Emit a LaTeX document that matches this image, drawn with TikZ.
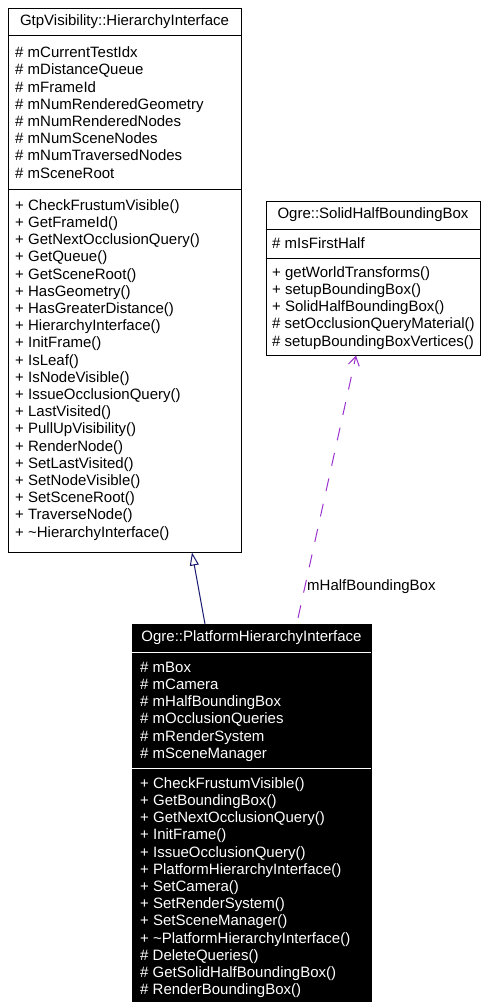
\documentclass[tikz,border=0pt]{standalone}
\usepackage{fontspec}
\setmainfont{Liberation Sans}
\usetikzlibrary{arrows.meta}
\definecolor{inhcol}{HTML}{191970}
\definecolor{usecol}{HTML}{9A32CD}
\tikzset{
  umlbox/.style={draw=black, line width=1pt, fill=white, anchor=north west, inner sep=0pt},
  darkbox/.style={draw=black, line width=1pt, fill=black, anchor=north west, inner sep=0pt},
  titletxt/.style={inner sep=0pt, font=\fontsize{15}{17.2}\selectfont},
  sectxt/.style={inner sep=0pt, anchor=north west, align=left, font=\fontsize{15}{17.2}\selectfont},
  sepline/.style={line width=1pt},
  inherit/.style={draw=inhcol, line width=1pt, -{Triangle[open, length=13pt, width=9pt]}},
  uses/.style={draw=usecol, line width=1pt, dash pattern=on 13pt off 13pt, -{Straight Barb[length=9pt, width=11pt]}},
}
\begin{document}
\begin{tikzpicture}[x=1pt,y=-1pt]
\useasboundingbox[fill=white] (0,0) rectangle (483,1006);

% GtpVisibility::HierarchyInterface
\node[umlbox, minimum width=233pt, minimum height=544pt] (gtp) at (8,8) {};
\draw[sepline] (8,36) -- (241,36);
\draw[sepline] (8,189) -- (241,189);
\node[titletxt] (gtptitle) at (124.5,22) {GtpVisibility::HierarchyInterface};
\node[sectxt] (gtpattr) at (15,45.5) {\strut\# mCurrentTestIdx\\\# mDistanceQueue\\\# mFrameId\\\# mNumRenderedGeometry\\\# mNumRenderedNodes\\\# mNumSceneNodes\\\# mNumTraversedNodes\\\# mSceneRoot};
\node[sectxt] (gtpmeth) at (15,198) {\strut+ CheckFrustumVisible()\\+ GetFrameId()\\+ GetNextOcclusionQuery()\\+ GetQueue()\\+ GetSceneRoot()\\+ HasGeometry()\\+ HasGreaterDistance()\\+ HierarchyInterface()\\+ InitFrame()\\+ IsLeaf()\\+ IsNodeVisible()\\+ IssueOcclusionQuery()\\+ LastVisited()\\+ PullUpVisibility()\\+ RenderNode()\\+ SetLastVisited()\\+ SetNodeVisible()\\+ SetSceneRoot()\\+ TraverseNode()\\+ \textasciitilde HierarchyInterface()};

% Ogre::SolidHalfBoundingBox
\node[umlbox, minimum width=214pt, minimum height=154pt] (solid) at (266,201) {};
\draw[sepline] (266,229) -- (480,229);
\draw[sepline] (266,258) -- (480,258);
\node[titletxt] (solidtitle) at (373,215) {Ogre::SolidHalfBoundingBox};
\node[sectxt] (solidattr) at (272,236) {\strut\# mIsFirstHalf};
\node[sectxt] (solidmeth) at (272,265) {\strut+ getWorldTransforms()\\+ setupBoundingBox()\\+ SolidHalfBoundingBox()\\\# setOcclusionQueryMaterial()\\\# setupBoundingBoxVertices()};

% Ogre::PlatformHierarchyInterface
\node[darkbox, minimum width=239pt, minimum height=377pt] (plat) at (132,624) {};
\draw[sepline, white] (132,652) -- (371,652);
\draw[sepline, white] (132,768) -- (371,768);
\node[titletxt, text=white] (plattitle) at (251.5,638) {Ogre::PlatformHierarchyInterface};
\node[sectxt, text=white] (platattr) at (140,660) {\strut\# mBox\\\# mCamera\\\# mHalfBoundingBox\\\# mOcclusionQueries\\\# mRenderSystem\\\# mSceneManager};
\node[sectxt, text=white] (platmeth) at (140,776) {\strut+ CheckFrustumVisible()\\+ GetBoundingBox()\\+ GetNextOcclusionQuery()\\+ InitFrame()\\+ IssueOcclusionQuery()\\+ PlatformHierarchyInterface()\\+ SetCamera()\\+ SetRenderSystem()\\+ SetSceneManager()\\+ \textasciitilde PlatformHierarchyInterface()\\\# DeleteQueries()\\\# GetSolidHalfBoundingBox()\\\# RenderBoundingBox()};

% connectors
\coordinate (inhstart) at (205,624);
\coordinate (inhend) at (192,552.5);
\draw[inherit] (inhstart) -- (inhend);
\coordinate (usestart) at (298,618);
\coordinate (useend) at (356,355.5);
\draw[uses] (usestart) -- (useend);
\node[titletxt, anchor=west] (uselabel) at (307,587) {mHalfBoundingBox};
\end{tikzpicture}
\end{document}
